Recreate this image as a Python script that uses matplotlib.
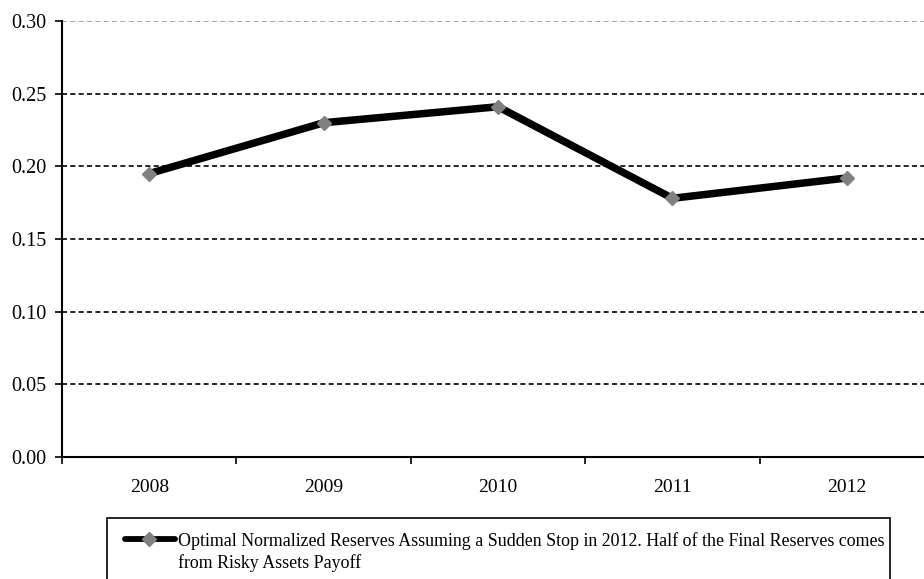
import matplotlib.pyplot as plt
from matplotlib.lines import Line2D
from matplotlib.patches import Rectangle

years = ["2008", "2009", "2010", "2011", "2012"]
reserves = [0.195, 0.230, 0.241, 0.178, 0.192]
yticks = [0.00, 0.05, 0.10, 0.15, 0.20, 0.25, 0.30]
label = ("Optimal Normalized Reserves Assuming a Sudden Stop in 2012. Half of the Final Reserves comes\n"
         "from Risky Assets Payoff")

plt.rcParams['font.family'] = ['Liberation Serif', 'DejaVu Serif']

W, H = 924, 579
fig = plt.figure(figsize=(W / 100, H / 100), dpi=100)
ax = fig.add_axes([62 / W, 1 - 457 / H, 872 / W, 436 / H])

x = range(len(years))
ax.plot(x, reserves, color="black", linewidth=5.4, solid_capstyle="butt", zorder=3)
ax.plot(x, reserves, linestyle="none", marker="D", markersize=7,
        color="#808080", zorder=4)

ax.set_xlim(-0.5, len(years) - 0.5)
ax.set_ylim(0, 0.30)
ax.set_yticks(yticks)
ax.set_yticklabels(["%.2f" % v for v in yticks], fontsize=14.5)
ax.set_xticks(list(x))
ax.set_xticklabels(years, fontsize=14)
ax.tick_params(axis="x", length=0, pad=16)
ax.set_xticks([i - 0.5 for i in range(len(years) + 1)], minor=True)
ax.tick_params(axis="x", which="minor", length=5, width=1.2, direction="out")
ax.tick_params(axis="y", length=5, width=1.2, direction="out", pad=6)

# dashed horizontal grid, top one in gray
for v in yticks[1:]:
    col = "#999999" if v == yticks[-1] else "black"
    ax.axhline(v, color=col, linestyle=(0, (3, 2)), linewidth=1.2, zorder=1)

for side in ["top", "right"]:
    ax.spines[side].set_visible(False)
ax.spines["left"].set_linewidth(1.5)
ax.spines["bottom"].set_linewidth(1.5)

# legend: box runs past the bottom edge, key sits level with the first text line
box = Rectangle((107 / W, -0.05), (890 - 107) / W, 0.05 + 1 - 518 / H,
                transform=fig.transFigure, fill=False, edgecolor="black",
                linewidth=1.2)
fig.add_artist(box)

key_y = 1 - 539 / H
fig.add_artist(Line2D([125 / W, 175 / W], [key_y, key_y], transform=fig.transFigure,
                      color="black", linewidth=4.2, solid_capstyle="round"))
fig.add_artist(Line2D([149 / W], [key_y], transform=fig.transFigure,
                      linestyle="none", marker="D", markersize=7.5, color="#808080"))
fig.text(178 / W, 1 - 532 / H, label, fontsize=12.85, va="top", ha="left",
         linespacing=1.3)

fig.savefig("out.png", dpi=100)
